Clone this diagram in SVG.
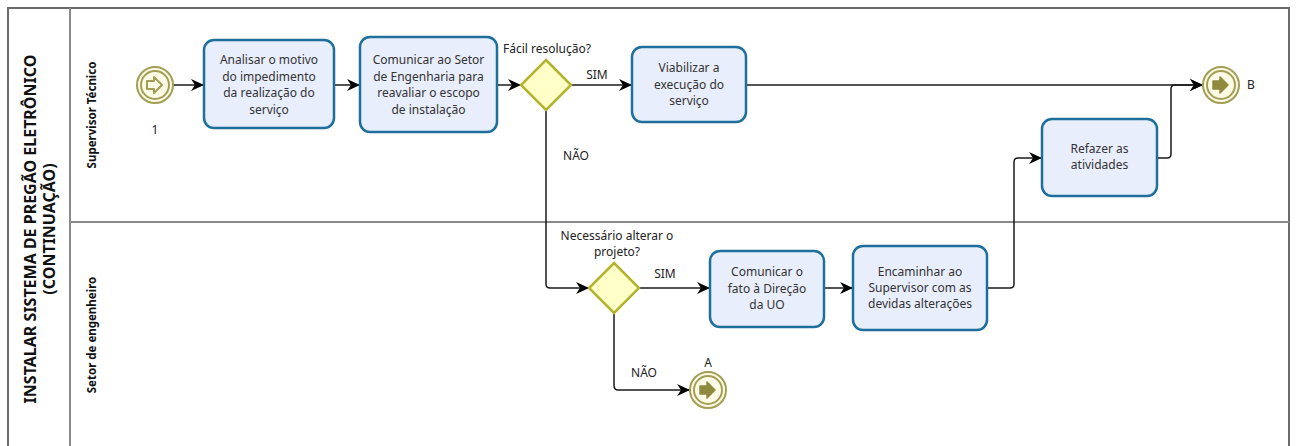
<svg xmlns="http://www.w3.org/2000/svg" width="1296" height="446" viewBox="0 0 1296 446">
<defs>
<style>
.pool{fill:#fff;stroke:#6b6b6b;stroke-width:2}
.lane{fill:none;stroke:#8a8a8a;stroke-width:2}
.task{fill:#e9eefc;stroke:#1e6f9c;stroke-width:2.5}
.gw{fill:#ffffc8;stroke:#b3b32e;stroke-width:2.5}
.ev{fill:#fdfbe6;stroke:#a39d55;stroke-width:2}
.t{font-family:"Noto Sans","Open Sans",sans-serif;font-size:12px;fill:#333;text-anchor:middle}
.lbl{font-family:"Noto Sans","Open Sans",sans-serif;font-size:12px;fill:#222;text-anchor:middle}
.title{font-family:"Noto Sans","Open Sans",sans-serif;font-size:16px;font-weight:bold;fill:#111;text-anchor:middle}
.lanet{font-family:"Noto Sans","Open Sans",sans-serif;font-size:11.5px;font-weight:bold;fill:#111;text-anchor:middle}
.c{fill:none;stroke:#1a1a1a;stroke-width:1.5}
</style>
<marker id="arr" markerUnits="userSpaceOnUse" markerWidth="14" markerHeight="12" refX="13" refY="6" orient="auto">
<path d="M0,0 L13,6 L0,12 L4,6 z" fill="#000"/>
</marker>
</defs>
<g id="pool">
<rect class="pool" x="8" y="8" width="1281" height="442"/>
<line class="lane" x1="70" y1="8" x2="70" y2="450"/>
<line class="lane" x1="70" y1="222" x2="1289" y2="222"/>
<text class="title" transform="translate(36,229) rotate(-90)">INSTALAR SISTEMA DE PREGÃO ELETRÔNICO</text>
<text class="title" transform="translate(55,229) rotate(-90)">(CONTINUAÇÃO)</text>
<text class="lanet" transform="translate(96,115) rotate(-90)">Supervisor Técnico</text>
<text class="lanet" transform="translate(96,335) rotate(-90)">Setor de engenheiro</text>
</g>
<g id="connectors">
<line class="c" x1="173" y1="85" x2="204" y2="85" marker-end="url(#arr)"/>
<line class="c" x1="334" y1="85" x2="360" y2="85" marker-end="url(#arr)"/>
<line class="c" x1="497" y1="85" x2="521" y2="85" marker-end="url(#arr)"/>
<line class="c" x1="571" y1="85" x2="632" y2="85" marker-end="url(#arr)"/>
<line class="c" x1="746" y1="85" x2="1203" y2="85" marker-end="url(#arr)"/>
<path class="c" d="M1157,158 H1167 Q1171,158 1171,154 V89 Q1171,85 1175,85 H1203" marker-end="url(#arr)"/>
<path class="c" d="M546,110 V284 Q546,288 550,288 H589" marker-end="url(#arr)"/>
<line class="c" x1="639" y1="288" x2="710" y2="288" marker-end="url(#arr)"/>
<line class="c" x1="824" y1="288" x2="853" y2="288" marker-end="url(#arr)"/>
<path class="c" d="M987,288 H1010 Q1014,288 1014,284 V162 Q1014,158 1018,158 H1042" marker-end="url(#arr)"/>
<path class="c" d="M614,313 V385 Q614,390 618,390 H690" marker-end="url(#arr)"/>
<text class="lbl" x="597" y="79">SIM</text>
<text class="lbl" x="576" y="160">NÃO</text>
<text class="lbl" x="665" y="278">SIM</text>
<text class="lbl" x="644" y="377">NÃO</text>
</g>
<g id="start1">
<circle class="ev" cx="155" cy="85" r="18"/>
<circle cx="155" cy="85" r="14" fill="none" stroke="#a39d55" stroke-width="2"/>
<path d="M147,81 H154 V77 L162,85 L154,93 V89 H147 Z" fill="none" stroke="#a39d55" stroke-width="2" stroke-linejoin="round"/>
<text class="lbl" x="155" y="134">1</text>
</g>
<g id="task1">
<rect class="task" x="204" y="40" width="130" height="88" rx="10"/>
<text class="t" x="269" y="64">Analisar o motivo</text>
<text class="t" x="269" y="81">do impedimento</text>
<text class="t" x="269" y="97">da realização do</text>
<text class="t" x="269" y="114">serviço</text>
</g>
<g id="task2">
<rect class="task" x="360" y="37" width="137" height="95" rx="10"/>
<text class="t" x="428.5" y="64">Comunicar ao Setor</text>
<text class="t" x="428.5" y="81">de Engenharia para</text>
<text class="t" x="428.5" y="97">reavaliar o escopo</text>
<text class="t" x="428.5" y="114">de instalação</text>
</g>
<g id="gw1">
<path class="gw" d="M546,60 L571,85 L546,110 L521,85 Z"/>
<text class="lbl" x="547" y="53">Fácil resolução?</text>
</g>
<g id="task3">
<rect class="task" x="632" y="47" width="114" height="75" rx="10"/>
<text class="t" x="689" y="72">Viabilizar a</text>
<text class="t" x="689" y="89">execução do</text>
<text class="t" x="689" y="105">serviço</text>
</g>
<g id="endB">
<circle class="ev" cx="1221" cy="85" r="18"/>
<circle cx="1221" cy="85" r="14" fill="none" stroke="#a39d55" stroke-width="2"/>
<path d="M1213,81 H1220 V77 L1228,85 L1220,93 V89 H1213 Z" fill="#8f8a3e" stroke="#8f8a3e" stroke-width="1.5" stroke-linejoin="round"/>
<text class="lbl" x="1251" y="89">B</text>
</g>
<g id="task6">
<rect class="task" x="1042" y="119" width="115" height="77" rx="10"/>
<text class="t" x="1099.5" y="153">Refazer as</text>
<text class="t" x="1099.5" y="169">atividades</text>
</g>
<g id="gw2">
<path class="gw" d="M614,263 L639,288 L614,313 L589,288 Z"/>
<text class="lbl" x="617" y="240">Necessário alterar o</text>
<text class="lbl" x="617" y="256">projeto?</text>
</g>
<g id="task4">
<rect class="task" x="710" y="251" width="114" height="76" rx="10"/>
<text class="t" x="767" y="276">Comunicar o</text>
<text class="t" x="767" y="293">fato à Direção</text>
<text class="t" x="767" y="309">da UO</text>
</g>
<g id="task5">
<rect class="task" x="853" y="246" width="134" height="84" rx="10"/>
<text class="t" x="920" y="276">Encaminhar ao</text>
<text class="t" x="920" y="292">Supervisor com as</text>
<text class="t" x="920" y="308">devidas alterações</text>
</g>
<g id="endA">
<circle class="ev" cx="708" cy="390" r="18"/>
<circle cx="708" cy="390" r="14" fill="none" stroke="#a39d55" stroke-width="2"/>
<path d="M700,386 H707 V382 L715,390 L707,398 V394 H700 Z" fill="#8f8a3e" stroke="#8f8a3e" stroke-width="1.5" stroke-linejoin="round"/>
<text class="lbl" x="708" y="367">A</text>
</g>
</svg>
